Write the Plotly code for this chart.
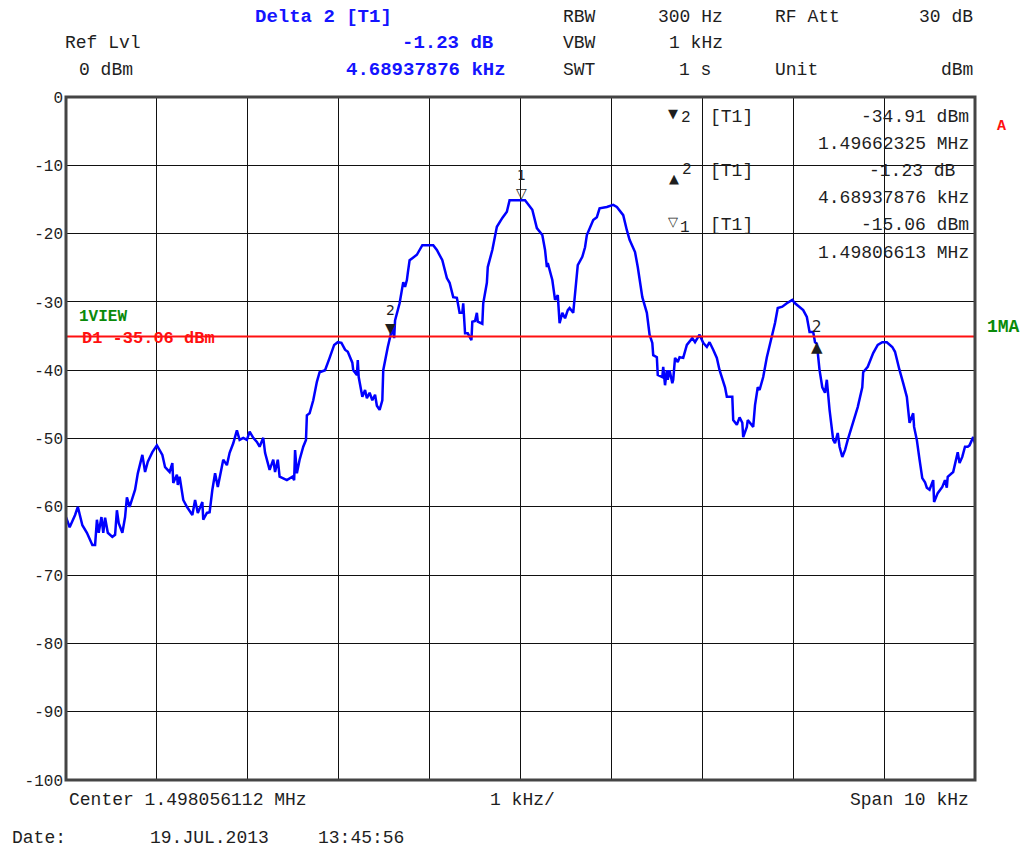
import plotly.graph_objects as go

# ---- instrument settings -------------------------------------------------
CENTER_MHZ = 1.498056112
SPAN_KHZ = 10.0
DIV_KHZ = 1.0
REF_LEVEL_DBM = 0
RBW_TEXT = "300 Hz"
VBW_TEXT = "1 kHz"
SWT_TEXT = "1 s"
RF_ATT_TEXT = "30 dB"
UNIT_TEXT = "dBm"
DATE_TEXT = "19.JUL.2013"
TIME_TEXT = "13:45:56"

Y_TICKS = [0, -10, -20, -30, -40, -50, -60, -70, -80, -90, -100]

# ---- trace (offset from center in kHz, level in dBm) ---------------------
FREQ_OFFSET_KHZ = [
    -5.00, -4.96, -4.90, -4.87, -4.82, -4.77, -4.71, -4.68, -4.66, -4.64,
    -4.61, -4.59, -4.57, -4.54, -4.49, -4.46, -4.44, -4.42, -4.38, -4.35,
    -4.33, -4.30, -4.24, -4.21, -4.16, -4.13, -4.10, -4.05, -4.00, -3.94,
    -3.91, -3.86, -3.83, -3.82, -3.78, -3.77, -3.75, -3.71, -3.67, -3.61,
    -3.58, -3.55, -3.50, -3.49, -3.45, -3.42, -3.39, -3.36, -3.33, -3.27,
    -3.23, -3.20, -3.16, -3.12, -3.09, -3.05, -3.01, -2.98, -2.94, -2.90,
    -2.87, -2.83, -2.81, -2.76, -2.72, -2.70, -2.67, -2.65, -2.57, -2.51,
    -2.49, -2.48, -2.46, -2.43, -2.39, -2.36, -2.35, -2.32, -2.28, -2.24,
    -2.21, -2.15, -2.10, -2.05, -2.01, -1.97, -1.93, -1.90, -1.85, -1.84,
    -1.80, -1.79, -1.78, -1.74, -1.71, -1.69, -1.66, -1.63, -1.60, -1.58,
    -1.55, -1.52, -1.51, -1.49, -1.46, -1.43, -1.41, -1.39, -1.38, -1.33,
    -1.29, -1.27, -1.25, -1.24, -1.22, -1.19, -1.14, -1.08, -0.96, -0.92,
    -0.86, -0.81, -0.78, -0.74, -0.70, -0.67, -0.64, -0.63, -0.61, -0.58,
    -0.54, -0.53, -0.50, -0.48, -0.47, -0.42, -0.41, -0.37, -0.36, -0.31,
    -0.28, -0.26, -0.20, -0.15, -0.12, 0.01, 0.05, 0.13, 0.16, 0.18,
    0.24, 0.27, 0.29, 0.30, 0.35, 0.38, 0.41, 0.43, 0.46, 0.49,
    0.52, 0.54, 0.58, 0.60, 0.63, 0.68, 0.71, 0.73, 0.76, 0.80,
    0.84, 0.87, 0.95, 1.02, 1.06, 1.13, 1.17, 1.20, 1.26, 1.29,
    1.34, 1.39, 1.42, 1.45, 1.46, 1.50, 1.51, 1.56, 1.57, 1.59,
    1.61, 1.62, 1.64, 1.67, 1.68, 1.70, 1.73, 1.75, 1.79, 1.83,
    1.89, 1.92, 1.97, 2.01, 2.05, 2.08, 2.12, 2.16, 2.19, 2.25,
    2.27, 2.33, 2.34, 2.38, 2.41, 2.44, 2.45, 2.49, 2.50, 2.56,
    2.58, 2.61, 2.63, 2.67, 2.71, 2.77, 2.80, 2.83, 2.88, 2.93,
    2.99, 3.02, 3.07, 3.11, 3.15, 3.18, 3.22, 3.24, 3.26, 3.29,
    3.32, 3.35, 3.37, 3.38, 3.40, 3.44, 3.46, 3.49, 3.51, 3.54,
    3.57, 3.60, 3.66, 3.71, 3.76, 3.77, 3.82, 3.88, 3.93, 3.98,
    4.03, 4.09, 4.12, 4.14, 4.17, 4.21, 4.25, 4.28, 4.32, 4.33,
    4.36, 4.39, 4.42, 4.45, 4.47, 4.50, 4.54, 4.55, 4.59, 4.64,
    4.67, 4.69, 4.70, 4.76, 4.80, 4.81, 4.83, 4.86, 4.89, 4.92,
    4.94, 4.98, 5.00,
]

LEVEL_DBM = [
    -61.5, -63.0, -61.2, -60.0, -62.7, -63.8, -65.6, -65.6, -61.9, -63.8,
    -61.5, -63.8, -61.6, -63.8, -64.4, -64.1, -60.5, -62.4, -63.8, -61.5,
    -58.6, -60.0, -57.5, -55.1, -52.4, -54.9, -53.4, -52.0, -51.0, -52.4,
    -54.2, -54.9, -53.6, -56.5, -55.3, -56.8, -55.6, -59.0, -60.0, -61.2,
    -59.0, -60.9, -59.3, -61.9, -60.9, -60.8, -57.5, -55.1, -57.1, -53.1,
    -53.9, -52.1, -50.7, -48.8, -50.2, -49.9, -50.2, -49.0, -49.9, -50.5,
    -51.2, -49.9, -52.1, -54.6, -53.1, -54.9, -53.1, -55.6, -56.1, -55.6,
    -56.1, -51.7, -55.1, -53.1, -51.2, -50.2, -46.6, -46.3, -44.4, -41.7,
    -40.3, -40.0, -38.2, -36.3, -35.9, -36.0, -37.0, -37.3, -38.9, -40.0,
    -40.7, -38.5, -41.0, -43.9, -42.9, -44.1, -43.3, -44.4, -43.6, -45.2,
    -45.8, -44.4, -40.0, -38.5, -36.6, -34.9, -33.7, -35.3, -32.7, -30.2,
    -27.1, -27.8, -26.8, -25.8, -23.9, -23.6, -23.1, -21.7, -21.7, -22.4,
    -23.9, -26.5, -27.2, -29.3, -29.4, -31.6, -31.6, -30.2, -34.6, -34.6,
    -35.6, -32.9, -32.8, -31.6, -32.9, -33.2, -30.2, -27.2, -24.9, -22.4,
    -20.5, -19.0, -17.7, -16.8, -15.1, -15.06, -15.1, -16.5, -18.0, -19.2,
    -20.2, -22.4, -24.9, -24.3, -26.8, -29.7, -29.0, -33.1, -31.6, -32.4,
    -31.2, -30.9, -31.6, -28.3, -24.6, -23.4, -22.0, -20.2, -19.2, -18.0,
    -17.6, -16.3, -16.1, -15.8, -16.1, -17.3, -19.5, -20.9, -22.7, -24.9,
    -29.3, -31.6, -34.8, -36.0, -37.8, -38.1, -40.7, -41.0, -39.5, -42.2,
    -40.0, -41.4, -40.0, -41.9, -41.4, -38.2, -38.8, -38.1, -38.2, -36.3,
    -35.3, -35.9, -34.8, -36.0, -36.6, -35.9, -37.0, -38.2, -40.0, -42.5,
    -43.9, -43.9, -47.3, -48.0, -46.9, -47.7, -49.8, -48.3, -47.3, -48.3,
    -45.1, -42.5, -42.9, -41.0, -38.1, -34.8, -33.1, -30.9, -30.7, -30.2,
    -29.7, -30.2, -30.7, -31.2, -32.2, -34.4, -34.4, -35.9, -36.1, -40.0,
    -42.5, -43.3, -41.4, -42.9, -45.8, -50.2, -50.7, -49.2, -51.2, -52.7,
    -51.7, -50.2, -47.7, -45.4, -42.5, -40.3, -39.5, -37.5, -36.3, -35.9,
    -35.9, -36.6, -37.3, -38.5, -40.0, -41.9, -43.9, -47.7, -46.3, -48.3,
    -50.2, -53.1, -55.8, -56.4, -57.2, -57.5, -56.1, -59.3, -58.0, -57.1,
    -56.1, -57.2, -55.6, -54.9, -52.7, -52.0, -53.6, -52.7, -51.2, -51.2,
    -51.0, -49.8, -50.7,
]

# ---- markers and display line ---------------------------------------------
MARKER1_MHZ, MARKER1_DBM = 1.49806613, -15.06
MARKER2_MHZ, MARKER2_DBM = 1.49662325, -34.91
DELTA2_KHZ, DELTA2_DB = 4.68937876, -1.23
DISPLAY_LINE_DBM = -35.06

m1_x = (MARKER1_MHZ - CENTER_MHZ) * 1000.0
m2_x = (MARKER2_MHZ - CENTER_MHZ) * 1000.0
d2_x = m2_x + DELTA2_KHZ
d2_y = MARKER2_DBM + DELTA2_DB

# ---- layout geometry (pixels) ---------------------------------------------
FIG_W, FIG_H = 1024, 852
PLOT_L, PLOT_R, PLOT_T, PLOT_B = 66, 975, 97, 780
PW, PH = PLOT_R - PLOT_L, PLOT_B - PLOT_T

FONT = "Liberation Mono"
SYM_FONT = "DejaVu Sans"
INK = "#1e1e1e"
BLUE = "#1414ff"
RED = "#ff1010"
GREEN = "#0a8a0a"
TXT = 18


def px(x):
    return (x - PLOT_L) / PW


def py(y):
    return (PLOT_B - y) / PH


annotations = []


def label(text, x, y, anchor="left", color=INK, size=TXT, bold=False, font=FONT):
    annotations.append(dict(
        text=f"<b>{text}</b>" if bold else text,
        xref="paper", yref="paper", x=px(x), y=py(y),
        xanchor=anchor, yanchor="middle", showarrow=False,
        font=dict(family=font, size=size, color=color),
    ))


# header block
label("Delta 2 [T1]", 253, 17, "left", BLUE, 19, True)
label(f"{DELTA2_DB:.2f} dB", 495, 43, "right", BLUE, 19, True)
label(f"{DELTA2_KHZ:.8f} kHz", 508, 70, "right", BLUE, 19, True)
label("Ref Lvl", 63, 43)
label(f"{REF_LEVEL_DBM} dBm", 77, 70)
label("RBW", 561, 17)
label(RBW_TEXT, 725, 17, "right")
label("VBW", 561, 43)
label(VBW_TEXT, 725, 43, "right")
label("SWT", 561, 70)
label(SWT_TEXT, 713, 70, "right")
label("RF Att", 773, 17)
label(RF_ATT_TEXT, 975, 17, "right")
label("Unit", 773, 70)
label(UNIT_TEXT, 975, 70, "right")

# marker table
label("[T1]", 708, 117)
label(f"{MARKER2_DBM:.2f} dBm", 971, 117, "right")
label(f"{MARKER2_MHZ:.8f} MHz", 971, 144, "right")
label("[T1]", 708, 171)
label(f"{DELTA2_DB:.2f} dB", 958, 171, "right")
label(f"{DELTA2_KHZ:.8f} kHz", 971, 198, "right")
label("[T1]", 708, 225)
label(f"{MARKER1_DBM:.2f} dBm", 971, 225, "right")
label(f"{MARKER1_MHZ:.8f} MHz", 971, 253, "right")
label("▼", 673, 113, "center", INK, 13, font=SYM_FONT)
label("2", 686, 118, "center", INK, 16)
label("▲", 674, 178, "center", INK, 13, font=SYM_FONT)
label("2", 687, 170, "center", INK, 16)
label("▽", 673, 221, "center", INK, 13, font=SYM_FONT)
label("1", 685, 228, "center", INK, 16)

# side labels
label("A", 1001, 126, "center", RED, 15, True)
label("1MA", 985, 327, "left", GREEN, 18, True)
label("1VIEW", 77, 317, "left", GREEN, 16, True)
label(f"D1 {DISPLAY_LINE_DBM:.2f} dBm", 80, 338, "left", RED, 17, True)

# footer
label(f"Center {CENTER_MHZ:.9f} MHz", 67, 800)
label(f"{DIV_KHZ:g} kHz/", 522, 800, "center")
label(f"Span {SPAN_KHZ:g} kHz", 971, 800, "right")
label("Date:", 10, 838)
label(DATE_TEXT, 148, 838)
label(TIME_TEXT, 316, 838)


def marker_note(text, x, y, yanchor, yshift, size=14):
    # marker number and triangle share one text block
    annotations.append(dict(
        text=text, xref="x", yref="y", x=x, y=y,
        xanchor="center", yanchor=yanchor, yshift=yshift, showarrow=False,
        font=dict(family=SYM_FONT, size=size, color=INK),
    ))


# trace markers: number above a triangle pointing at the trace
marker_note("1<br>▽", m1_x, MARKER1_DBM, "bottom", -3)
marker_note("2<br>▼", m2_x, MARKER2_DBM, "bottom", -3)
marker_note("2<br>▲", d2_x, d2_y, "middle", 7, 15)

fig = go.Figure()

fig.add_trace(go.Scatter(
    x=FREQ_OFFSET_KHZ, y=LEVEL_DBM, mode="lines",
    line=dict(color="#0000ff", width=2.5),
    hoverinfo="skip", showlegend=False,
))

# display line D1
fig.add_shape(type="line", xref="paper", yref="y", x0=0, x1=1,
              y0=DISPLAY_LINE_DBM, y1=DISPLAY_LINE_DBM,
              line=dict(color=RED, width=2), layer="above")

# frame around the screen area
fig.add_shape(type="rect", xref="paper", yref="paper", x0=0, x1=1, y0=0, y1=1,
              line=dict(color="#444444", width=3), layer="above")

fig.update_layout(
    width=FIG_W, height=FIG_H,
    margin=dict(l=PLOT_L, r=FIG_W - PLOT_R, t=PLOT_T, b=FIG_H - PLOT_B, pad=0),
    paper_bgcolor="white", plot_bgcolor="white",
    showlegend=False, hovermode=False,
    annotations=annotations,
    xaxis=dict(
        range=[-SPAN_KHZ / 2, SPAN_KHZ / 2], dtick=DIV_KHZ, tick0=0,
        showgrid=True, gridcolor="#111111", gridwidth=1,
        zeroline=False, showticklabels=False, ticks="", showline=False,
        fixedrange=True,
    ),
    yaxis=dict(
        range=[-100, 0], tickvals=Y_TICKS, ticktext=[str(v) for v in Y_TICKS],
        showgrid=True, gridcolor="#111111", gridwidth=1,
        zeroline=False, ticks="", showline=False, ticklabelstandoff=2,
        tickfont=dict(family=FONT, size=16, color=INK),
        fixedrange=True,
    ),
)

fig.write_html("out.html")
